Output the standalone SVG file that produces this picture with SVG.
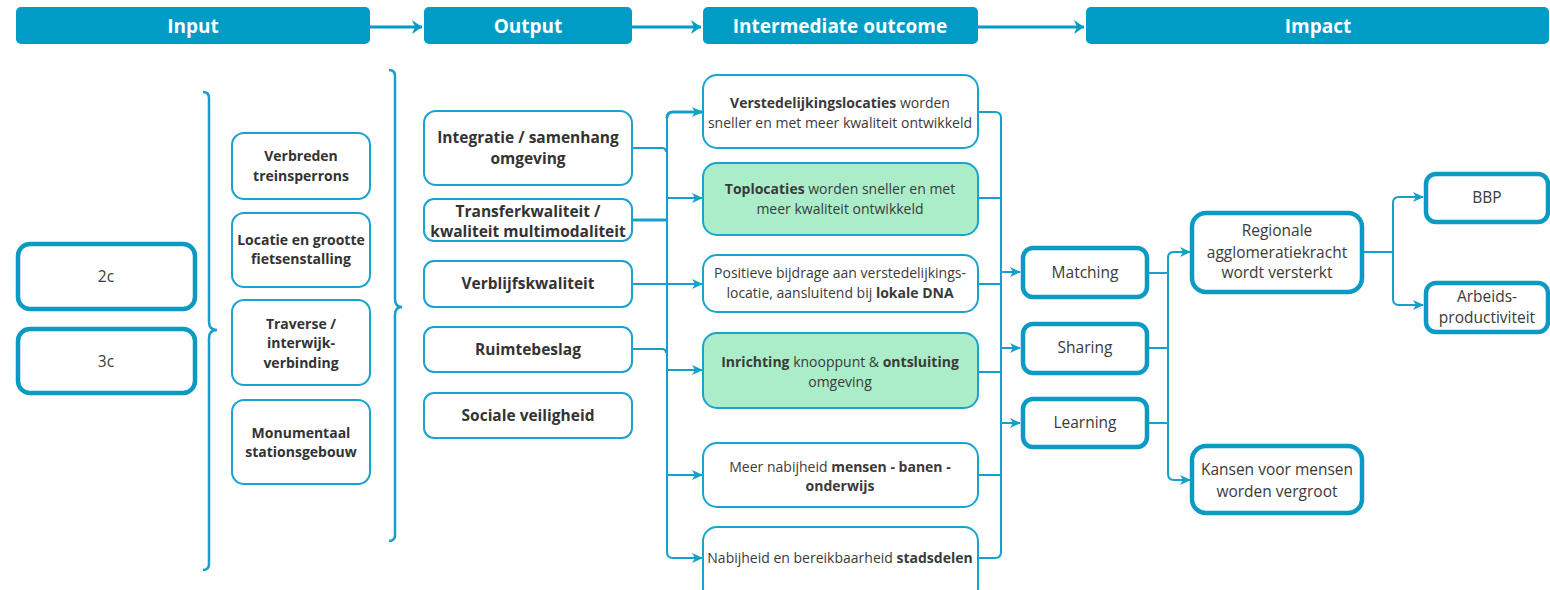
<svg xmlns="http://www.w3.org/2000/svg" width="1550" height="590" viewBox="0 0 1550 590">
<defs>
<marker id="ah" markerUnits="userSpaceOnUse" markerWidth="12" markerHeight="12" refX="10" refY="6" orient="auto">
<path d="M0,1 L11,6 L0,11 L3,6 Z" fill="#159fcb"/>
</marker>
<marker id="hh" markerUnits="userSpaceOnUse" markerWidth="14" markerHeight="16" refX="12" refY="8" orient="auto">
<path d="M2,1 L12,8 L2,15 L5,8 Z" fill="#019cc6"/>
</marker>
</defs>
<style>
text{font-family:"Open Sans","Liberation Sans",sans-serif;fill:#333;text-anchor:middle}
.hd rect{fill:#019cc6}
.hd text{fill:#fff;font-weight:bold;font-size:19px}
.thin{fill:#fff;stroke:#1ba3cf;stroke-width:2}
.green{fill:#abedc8;stroke:#1ba3cf;stroke-width:2}
.thick{fill:#fff;stroke:#0a9ac4;stroke-width:4.5}
.b{font-weight:bold}
.in text{font-size:14px;font-weight:bold}
.out text{font-size:15.5px;font-weight:bold}
.mid text{font-size:14px;fill:#3a3a3a}
.imp text{font-size:15.5px;fill:#3a3a3a}
.con path{fill:none;stroke:#159fcb;stroke-width:2}
.brace{fill:none;stroke:#159fcb;stroke-width:2.5}
</style>

<g id="headers" class="hd">
<g id="h-input"><rect x="16" y="7" width="354" height="37" rx="5"/><text x="193" y="33">Input</text></g>
<g id="h-output"><rect x="424" y="7" width="208" height="37" rx="5"/><text x="528" y="33">Output</text></g>
<g id="h-inter"><rect x="703" y="7" width="275" height="37" rx="5"/><text x="840" y="33">Intermediate outcome</text></g>
<g id="h-impact"><rect x="1086" y="7" width="463" height="37" rx="5"/><text x="1318" y="33">Impact</text></g>
</g>

<g id="braces">
<path class="brace" d="M203,92 Q209,92 209,98 L209,322 Q209,330 217,330 Q209,330 209,338 L209,564 Q209,570 203,570"/>
<path class="brace" d="M389,70 Q395,70 395,76 L395,299 Q395,307 402,307 Q395,307 395,315 L395,535 Q395,541 389,541"/>
</g>

<g id="connectors" class="con">
<path d="M370,27 L422,27" marker-end="url(#hh)" style="stroke:#019cc6;stroke-width:3"/>
<path d="M632,27 L701,27" marker-end="url(#hh)" style="stroke:#019cc6;stroke-width:3"/>
<path d="M978,27 L1084,27" marker-end="url(#hh)" style="stroke:#019cc6;stroke-width:3"/>

<path d="M632,148 L662,148 Q666,148 666,152"/>
<path d="M632,220 L667,220" style="stroke-width:3"/>
<path d="M632,284 L667,284"/>
<path d="M632,349 L662,349 Q666,349 666,353"/>
<path d="M667,118 L667,552"/>
<path d="M667,118 Q667,112 673,112 L702,112" marker-end="url(#ah)" style="stroke-width:3"/>
<path d="M667,198 L702,198" marker-end="url(#ah)"/>
<path d="M667,284 L702,284" marker-end="url(#ah)"/>
<path d="M667,370 L702,370" marker-end="url(#ah)"/>
<path d="M667,475 L702,475" marker-end="url(#ah)"/>
<path d="M667,552 Q667,558 673,558 L702,558" marker-end="url(#ah)"/>

<path d="M978,112 L995,112 Q1001,112 1001,118 L1001,552 Q1001,558 995,558 L978,558"/>
<path d="M978,198 L1001,198"/>
<path d="M978,284 L1001,284"/>
<path d="M978,372 L1001,372"/>
<path d="M978,475 L1001,475"/>
<path d="M1001,272 L1020,272" marker-end="url(#ah)"/>
<path d="M1001,348 L1020,348" marker-end="url(#ah)"/>
<path d="M1001,423 L1020,423" marker-end="url(#ah)"/>

<path d="M1147,273 L1168,273"/>
<path d="M1147,348 L1168,348"/>
<path d="M1147,423 L1168,423"/>
<path d="M1168,300 L1168,258 Q1168,252 1174,252 L1190,252" marker-end="url(#ah)"/>
<path d="M1168,300 L1168,474 Q1168,480 1174,480 L1190,480" marker-end="url(#ah)"/>

<path d="M1362,252 L1393,252"/>
<path d="M1393,252 L1393,203 Q1393,197 1399,197 L1423,197" marker-end="url(#ah)"/>
<path d="M1393,252 L1393,299 Q1393,305 1399,305 L1423,305" marker-end="url(#ah)"/>
</g>

<g id="n-2c"><rect class="thick" x="18" y="244" width="177" height="65" rx="12"/><text x="106" y="282" style="font-size:15.5px;fill:#3a3a3a">2c</text></g>
<g id="n-3c"><rect class="thick" x="18" y="329" width="177" height="64" rx="12"/><text x="106" y="367" style="font-size:15.5px;fill:#3a3a3a">3c</text></g>

<g class="in">
<g id="n-verbreden"><rect class="thin" x="232" y="133" width="138" height="66" rx="12"/><text x="301" y="161">Verbreden</text><text x="301" y="181">treinsperrons</text></g>
<g id="n-locatie"><rect class="thin" x="232" y="213" width="138" height="74" rx="12"/><text x="301" y="245">Locatie en grootte</text><text x="301" y="264">fietsenstalling</text></g>
<g id="n-traverse"><rect class="thin" x="232" y="300" width="138" height="85" rx="12"/><text x="301" y="329">Traverse /</text><text x="301" y="348">interwijk-</text><text x="301" y="368">verbinding</text></g>
<g id="n-monumentaal"><rect class="thin" x="232" y="400" width="138" height="84" rx="12"/><text x="301" y="438">Monumentaal</text><text x="301" y="457">stationsgebouw</text></g>
</g>

<g class="out">
<g id="n-integratie"><rect class="thin" x="424" y="111" width="208" height="74" rx="12"/><text x="528" y="143">Integratie / samenhang</text><text x="528" y="164">omgeving</text></g>
<g id="n-transfer"><rect class="thin" x="424" y="199" width="208" height="42" rx="10"/><text x="528" y="217">Transferkwaliteit /</text><text x="528" y="237">kwaliteit multimodaliteit</text></g>
<g id="n-verblijf"><rect class="thin" x="424" y="261" width="208" height="46" rx="10"/><text x="528" y="289">Verblijfskwaliteit</text></g>
<g id="n-ruimte"><rect class="thin" x="424" y="327" width="208" height="45" rx="10"/><text x="528" y="355">Ruimtebeslag</text></g>
<g id="n-sociale"><rect class="thin" x="424" y="393" width="208" height="45" rx="10"/><text x="528" y="421">Sociale veiligheid</text></g>
</g>

<g class="mid">
<g id="n-versted"><rect class="thin" x="703" y="75" width="275" height="73" rx="14"/><text x="840" y="108"><tspan class="b">Verstedelijkingslocaties</tspan> worden</text><text x="840" y="128">sneller en met meer kwaliteit ontwikkeld</text></g>
<g id="n-toploc"><rect class="green" x="703" y="163" width="275" height="72" rx="14"/><text x="840" y="194"><tspan class="b">Toplocaties</tspan> worden sneller en met</text><text x="840" y="214">meer kwaliteit ontwikkeld</text></g>
<g id="n-positief"><rect class="thin" x="703" y="255" width="275" height="57" rx="14"/><text x="840" y="278">Positieve bijdrage aan verstedelijkings-</text><text x="840" y="298">locatie, aansluitend bij <tspan class="b">lokale DNA</tspan></text></g>
<g id="n-inrichting"><rect class="green" x="703" y="333" width="275" height="75" rx="14"/><text x="840" y="367"><tspan class="b">Inrichting</tspan> knooppunt &amp; <tspan class="b">ontsluiting</tspan></text><text x="840" y="387">omgeving</text></g>
<g id="n-meer"><rect class="thin" x="703" y="443" width="275" height="64" rx="14"/><text x="840" y="472">Meer nabijheid <tspan class="b">mensen - banen -</tspan></text><text x="840" y="491" class="b">onderwijs</text></g>
<g id="n-nabijheid"><rect class="thin" x="703" y="527" width="275" height="75" rx="14"/><text x="840" y="563">Nabijheid en bereikbaarheid <tspan class="b">stadsdelen</tspan></text></g>
</g>

<g class="imp">
<g id="n-matching"><rect class="thick" x="1023" y="248" width="124" height="49" rx="10"/><text x="1085" y="278">Matching</text></g>
<g id="n-sharing"><rect class="thick" x="1023" y="324" width="124" height="49" rx="10"/><text x="1085" y="353">Sharing</text></g>
<g id="n-learning"><rect class="thick" x="1023" y="399" width="124" height="48" rx="10"/><text x="1085" y="428">Learning</text></g>
<g id="n-regionale"><rect class="thick" x="1192" y="213" width="170" height="79" rx="14"/><text x="1277" y="236">Regionale</text><text x="1277" y="258">agglomeratiekracht</text><text x="1277" y="278">wordt versterkt</text></g>
<g id="n-kansen"><rect class="thick" x="1192" y="446" width="170" height="67" rx="14"/><text x="1277" y="475">Kansen voor mensen</text><text x="1277" y="497">worden vergroot</text></g>
<g id="n-bbp"><rect class="thick" x="1426" y="174" width="122" height="48" rx="10"/><text x="1487" y="203">BBP</text></g>
<g id="n-arbeid"><rect class="thick" x="1426" y="283" width="122" height="49" rx="10"/><text x="1487" y="302">Arbeids-</text><text x="1487" y="323">productiviteit</text></g>
</g>
</svg>
